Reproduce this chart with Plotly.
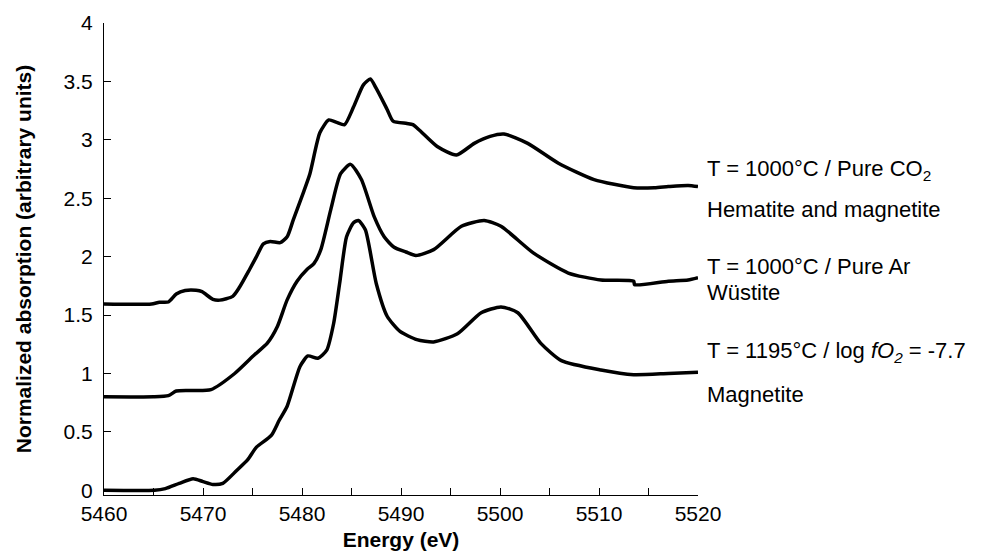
import plotly.graph_objects as go

# --- Data ---
energy_co2 = [5460, 5464.8, 5465.6, 5466.5, 5467.3, 5468.2, 5469.3, 5469.9, 5471.0, 5471.7,
              5473.0, 5473.7, 5474.7, 5475.4, 5476.1, 5476.8, 5477.8, 5478.5, 5479.1, 5480.1,
              5480.8, 5481.8, 5482.7, 5483.5, 5484.3, 5485.2, 5486.2, 5486.9, 5487.5, 5488.6,
              5489.2, 5490.6, 5491.2, 5491.9, 5493.7, 5495.6, 5497.4, 5499.0, 5500.4, 5502.8,
              5505.9, 5509.5, 5513.5, 5515.6, 5517.0, 5519.0, 5520.0]
absorb_co2 = [1.595, 1.595, 1.61, 1.612, 1.68, 1.71, 1.712, 1.70, 1.635, 1.628,
              1.66, 1.74, 1.89, 2.00, 2.11, 2.13, 2.12, 2.17, 2.31, 2.54,
              2.71, 3.06, 3.17, 3.15, 3.13, 3.28, 3.47, 3.52, 3.44, 3.26,
              3.16, 3.14, 3.13, 3.08, 2.94, 2.87, 2.97, 3.03, 3.05, 2.97,
              2.80, 2.66, 2.59, 2.59, 2.60, 2.61, 2.60]

energy_ar = [5460, 5465.0, 5466.5, 5467.3, 5468.6, 5470.8, 5473.2, 5475.2, 5476.5, 5477.5,
             5478.5, 5479.5, 5480.5, 5481.2, 5481.9, 5482.9, 5483.9, 5484.9, 5486.0, 5487.3,
             5488.3, 5489.3, 5490.5, 5491.5, 5493.3, 5496.1, 5498.4, 5500.1, 5503.4, 5506.9,
             5510.2, 5513.5, 5513.6, 5517.0, 5519.0, 5520.0]
absorb_ar = [0.80, 0.80, 0.81, 0.85, 0.855, 0.862, 1.00, 1.16, 1.26, 1.40,
             1.63, 1.79, 1.89, 1.94, 2.06, 2.40, 2.71, 2.79, 2.66, 2.34,
             2.17, 2.08, 2.04, 2.01, 2.06, 2.26, 2.31, 2.26, 2.03, 1.86,
             1.80, 1.79, 1.76, 1.79, 1.80, 1.82]

energy_mag = [5460, 5465.1, 5466.2, 5467.6, 5469.0, 5470.0, 5471.0, 5472.0, 5473.4, 5474.5,
              5475.4, 5476.9, 5477.7, 5478.5, 5479.8, 5480.6, 5481.6, 5482.5, 5483.2, 5483.8,
              5484.5, 5485.2, 5485.7, 5486.4, 5487.5, 5488.6, 5489.9, 5491.6, 5493.3, 5495.7,
              5498.1, 5500.1, 5501.8, 5504.1, 5506.2, 5510.2, 5513.5, 5517.0, 5520.0]
absorb_mag = [0.0, 0.0, 0.015, 0.06, 0.10, 0.075, 0.05, 0.06, 0.17, 0.26,
              0.37, 0.47, 0.60, 0.72, 1.06, 1.15, 1.13, 1.20, 1.43, 1.77,
              2.17, 2.29, 2.31, 2.23, 1.77, 1.49, 1.36, 1.29, 1.27, 1.34,
              1.52, 1.57, 1.52, 1.26, 1.11, 1.03, 0.99, 1.00, 1.01]

x_tick_vals = [5460, 5465, 5470, 5475, 5480, 5485, 5490, 5495, 5500, 5505, 5510, 5515, 5520]
x_tick_text = ["5460", "", "5470", "", "5480", "", "5490", "", "5500", "", "5510", "", "5520"]
y_tick_vals = [0, 0.5, 1, 1.5, 2, 2.5, 3, 3.5, 4]
y_tick_text = ["0", "0.5", "1", "1.5", "2", "2.5", "3", "3.5", "4"]

label_texts = ["T = 1000°C / Pure CO<sub>2</sub>", "Hematite and magnetite",
               "T = 1000°C / Pure Ar", "Wüstite",
               "T = 1195°C / log <i>fO<sub>2</sub></i> = -7.7", "Magnetite"]
label_y = [2.74, 2.40, 1.92, 1.695, 1.18, 0.824]

FONT = "Liberation Sans, Arial, Helvetica, sans-serif"

fig = go.Figure()
for ex, ay in [(energy_co2, absorb_co2), (energy_ar, absorb_ar), (energy_mag, absorb_mag)]:
    fig.add_trace(go.Scatter(x=ex, y=ay, mode="lines",
                             line=dict(color="black", width=3.5, shape="spline", smoothing=0.6),
                             showlegend=False, hoverinfo="skip"))

for text, yv in zip(label_texts, label_y):
    fig.add_annotation(x=1.012, xref="paper", y=yv, yref="y", text=text, showarrow=False,
                       xanchor="left", yanchor="middle",
                       font=dict(family=FONT, size=22, color="black"))

# page body has an 8px margin, so the figure is shrunk and margins offset by 8px
fig.update_layout(
    width=974, height=549,
    margin=dict(l=96, r=284, t=15, b=62, autoexpand=False),
    paper_bgcolor="white", plot_bgcolor="white",
    font=dict(family=FONT, size=21, color="black"),
)
fig.update_xaxes(range=[5460, 5520], showline=True, linecolor="black", linewidth=1,
                 ticks="inside", ticklen=7, tickcolor="black", tickwidth=1,
                 tickvals=x_tick_vals, ticktext=x_tick_text, showgrid=False, zeroline=False,
                 tickfont=dict(family=FONT, size=21), automargin=False,
                 title=dict(text="<b>Energy (eV)</b>", font=dict(family=FONT, size=21), standoff=8))
fig.update_yaxes(range=[-0.04, 4.0], showline=True, linecolor="black", linewidth=1,
                 ticks="inside", ticklen=7, tickcolor="black", tickwidth=1,
                 tickvals=y_tick_vals, ticktext=y_tick_text, showgrid=False, zeroline=False,
                 tickfont=dict(family=FONT, size=21), automargin=False, ticklabelstandoff=6,
                 title=dict(text="<b>Normalized absorption (arbitrary units)</b>",
                            font=dict(family=FONT, size=21), standoff=26))

fig.write_html("out.html")
